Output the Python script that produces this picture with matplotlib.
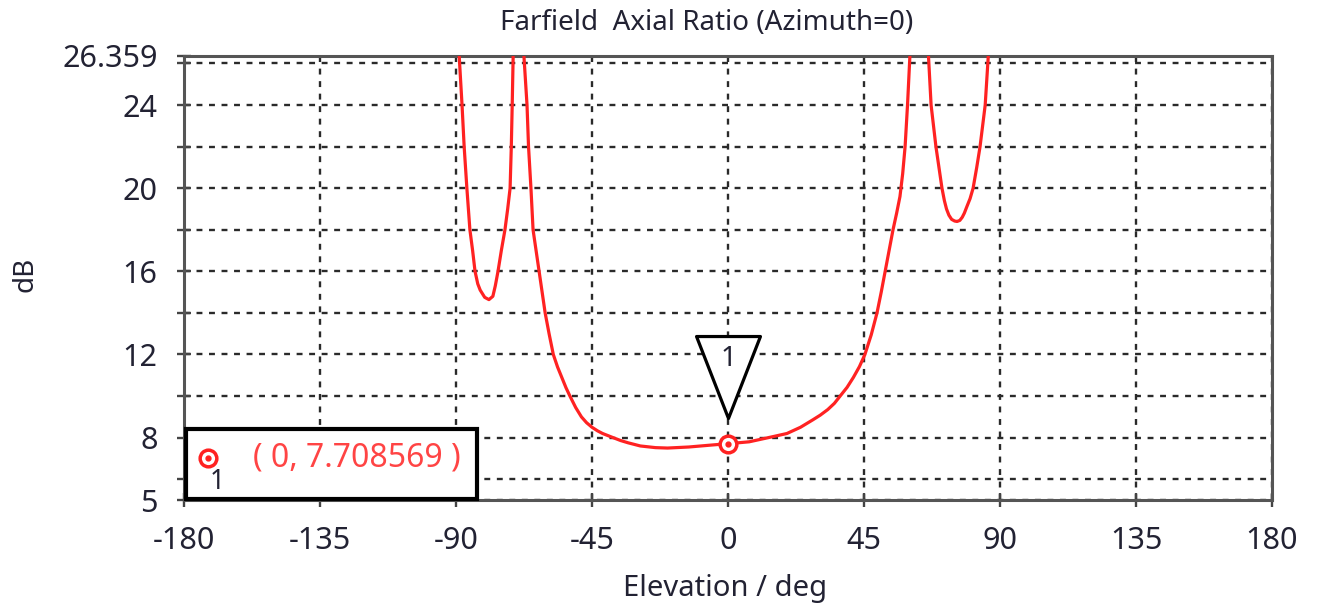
import matplotlib.pyplot as plt
import numpy as np
from matplotlib.transforms import offset_copy
from matplotlib.patches import Rectangle
from matplotlib.path import Path

# data (elevation in deg, axial ratio in dB)
# curve goes above the top of the plot between branches, so it is split
elev_a = [-89.2, -88.0, -87.3, -86.4, -85.4, -84.5, -83.7, -82.8, -82.0, -80.5, -79.1, -77.8, -77.0,
          -76.1, -75.0, -73.8, -72.9, -72.1, -71.7, -71.4, -71.0]
ar_a = [27.0, 24.0, 22.0, 20.0, 18.0, 17.0, 16.0, 15.4, 15.1, 14.75, 14.64, 14.8, 15.3,
        16.0, 17.0, 18.0, 19.0, 20.0, 22.0, 24.0, 27.0]

elev_b = [-67.8, -66.5, -66.0, -65.2, -64.5, -63.5, -62.5, -61.5, -60.5, -59.2, -57.8, -56.4, -55.0,
          -53.6, -52.3, -50.4, -48.5, -46.8, -45.0, -43.2, -41.5, -38.0,
          -35.5, -33.0, -29.0, -24.0, -20.0, -13.0, -5.0, 0.0, 7.0, 14.9, 19.5, 24.0, 28.1, 30.5, 33.0,
          35.2, 37.1, 39.4, 41.5, 43.5, 45.3, 47.4, 49.3, 50.7, 52.0, 53.3, 54.6, 55.8, 56.9, 57.8,
          58.6, 59.4, 60.4]
ar_b = [27.0, 24.0, 22.0, 20.0, 18.0, 17.0, 16.0, 15.0, 14.0, 13.0, 12.0, 11.4, 10.9,
        10.4, 10.0, 9.45, 9.0, 8.72, 8.5, 8.33, 8.2, 8.0,
        7.86, 7.75, 7.6, 7.52, 7.5, 7.55, 7.65, 7.708569, 7.8, 8.05, 8.2, 8.5, 8.86, 9.08, 9.35,
        9.65, 10.0, 10.42, 10.9, 11.42, 12.0, 12.95, 14.0, 15.0, 16.0, 17.0, 18.0, 18.8, 19.6, 20.7,
        22.0, 24.0, 27.0]

elev_c = [66.1, 67.2, 68.0, 68.8, 69.8, 70.8, 71.6, 72.3, 73.1, 74.0, 75.0, 75.8, 76.7, 77.5, 78.2,
          79.0, 80.1, 81.1, 82.3, 83.4, 85.1, 86.4]
ar_c = [27.0, 24.0, 23.0, 22.0, 21.0, 20.0, 19.4, 19.0, 18.7, 18.5, 18.42, 18.4, 18.45, 18.6, 18.8,
        19.1, 19.5, 20.0, 21.0, 22.0, 24.0, 27.0]

marker_x = 0
marker_y = 7.708569

x_ticks = [-180, -135, -90, -45, 0, 45, 90, 135, 180]
y_ticks = [5, 8, 12, 16, 20, 24, 26.359]
y_minor = [6, 10, 14, 18, 22, 26]

txt = '#222233'
red = '#ff2222'
plt.rcParams['font.family'] = ['Noto Sans', 'DejaVu Sans']

fig = plt.figure(figsize=(13.18, 6.10), dpi=100)
ax = fig.add_axes([0.1396, 0.1803, 0.8255, 0.7279])

for e, a in [(elev_a, ar_a), (elev_b, ar_b), (elev_c, ar_c)]:
    ax.plot(e, a, color=red, lw=2.3, zorder=3, solid_joinstyle='round')

ax.set_xlim(-180, 180)
ax.set_ylim(5, 26.359)
ax.set_xticks(x_ticks)
ax.set_xticklabels([str(t) for t in x_ticks])
ax.set_yticks(y_ticks)
ax.set_yticklabels(['5', '8', '12', '16', '20', '24', '26.359'])
ax.set_yticks(y_minor, minor=True)

ax.grid(True, which='both', color='#2a2a2a', ls=(0, (2.5, 2.8)), lw=1.7)
ax.tick_params(which='both', direction='inout', length=10, width=1.7, color='#444444',
               labelsize=22, labelcolor=txt)
ax.tick_params(axis='x', pad=14)
ax.tick_params(axis='y', pad=14)
for s in ax.spines.values():
    s.set_color('#555555')
    s.set_linewidth(2.2)

# marker 1
ax.plot(marker_x, marker_y, 'o', ms=12, mfc='white', mec=red, mew=2.5, zorder=5)
ax.plot(marker_x, marker_y, 'o', ms=3.5, color=red, zorder=6)
tr = offset_copy(ax.transData, fig=fig, x=0, y=48, units='points')
tri = Path([(-0.78, 1), (0.78, 1), (0, -1), (-0.78, 1)], closed=True)
ax.plot(marker_x, marker_y, marker=tri, ms=59, mfc='white', mec='black', mew=2.3,
        transform=tr, zorder=4)
tr2 = offset_copy(ax.transData, fig=fig, x=0, y=61, units='points')
ax.text(marker_x, marker_y, '1', transform=tr2, ha='center', va='center',
        fontsize=20, color=txt, zorder=6)

# readout box
ax.add_patch(Rectangle((0.002, 0.003), 0.267, 0.157, transform=ax.transAxes,
                       fill=True, fc='white', ec='black', lw=3, zorder=7, clip_on=False))
ax.plot(0.022, 0.095, 'o', ms=12, mfc='white', mec=red, mew=2.5, transform=ax.transAxes, zorder=8)
ax.plot(0.022, 0.095, 'o', ms=3.5, color=red, transform=ax.transAxes, zorder=9)
ax.text(0.031, 0.04, '1', transform=ax.transAxes, ha='center', va='center',
        fontsize=19, color=txt, zorder=9)
ax.text(0.159, 0.095, '( %g, %s )' % (marker_x, marker_y), transform=ax.transAxes,
        ha='center', va='center', fontsize=23, color='#ff4444', zorder=9)

fig.text(707 / 1318, 0.962, 'Farfield  Axial Ratio (Azimuth=0)', ha='center', va='center',
         fontsize=20, color=txt)
fig.text(725 / 1318, 0.035, 'Elevation / deg', ha='center', va='center', fontsize=21, color=txt)
fig.text(25 / 1318, 0.55, 'dB', ha='center', va='center', rotation=90, fontsize=20, color=txt)

fig.savefig('out.png', dpi=100)
